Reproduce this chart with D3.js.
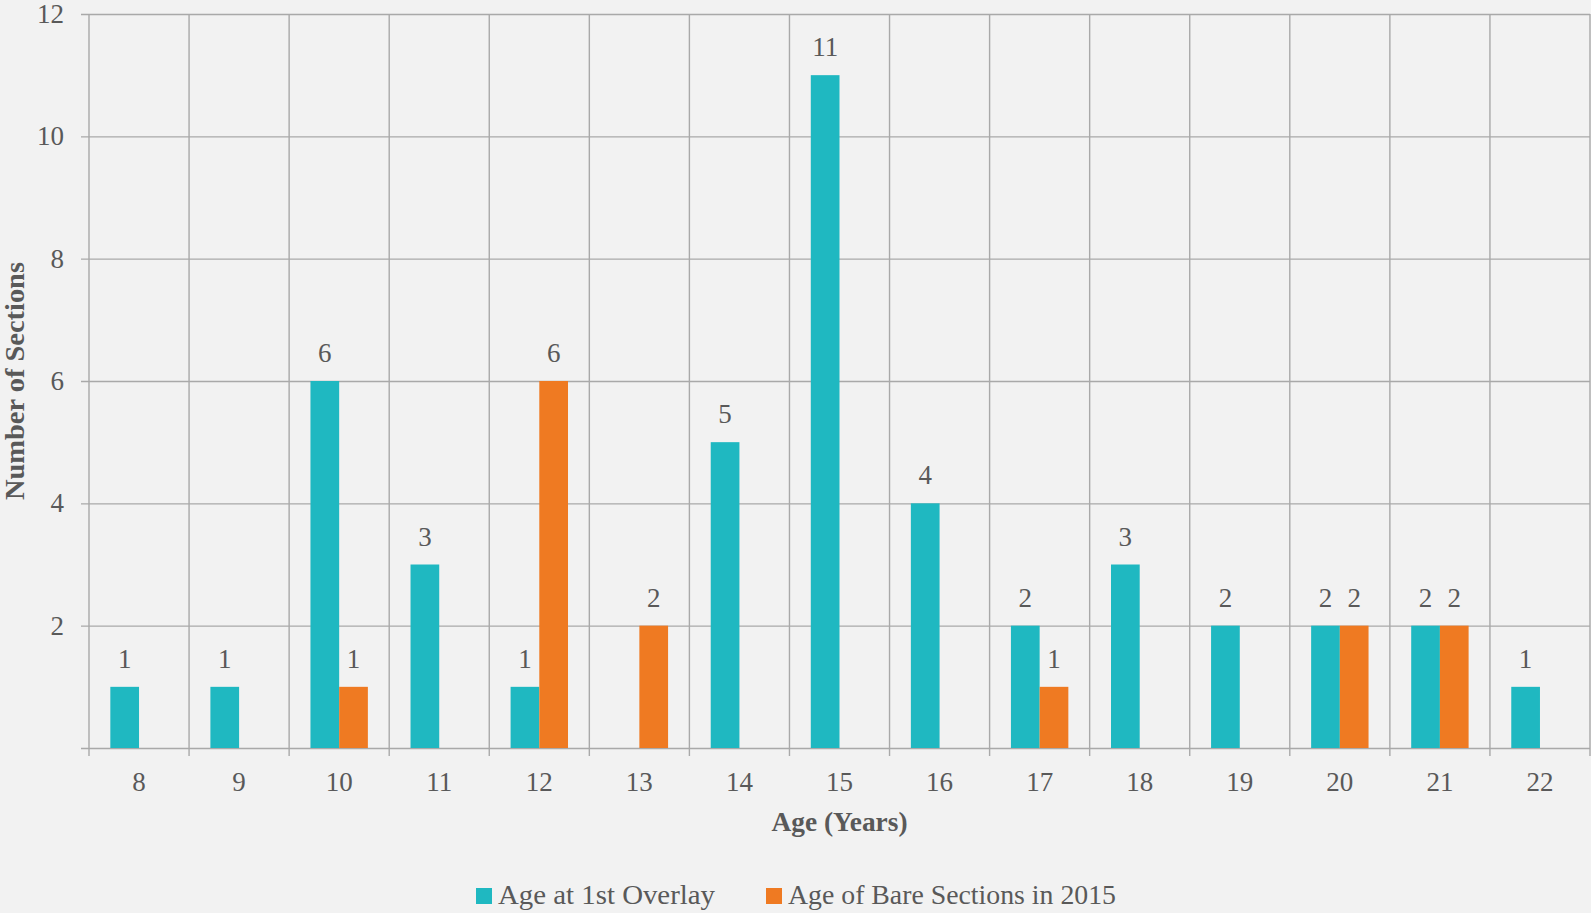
<!DOCTYPE html>
<html>
<head>
<meta charset="utf-8">
<script src="https://cdn.jsdelivr.net/npm/d3@7"></script>
<style>
	body { margin: 0; background: #f2f2f2; }
	svg { display: block; font-family: "Palatino Linotype", "Book Antiqua", Palatino, "Liberation Serif", serif; }
	.axis .domain { display: none; }
	.axis text { fill: #595959; font-size: 27px; }
</style>
</head>
<body>
<div id="chart"></div>
<script>
// Age distribution chart - grouped bars per age

var ages = ["8", "9", "10", "11", "12", "13", "14", "15", "16", "17", "18", "19", "20", "21", "22"];
var seriesNames = ["Age at 1st Overlay", "Age of Bare Sections in 2015"];
var firstOverlay = [1, 1, 6, 3, 1, 0, 5, 11, 4, 2, 3, 2, 2, 2, 1];
var bareSections = [0, 0, 1, 0, 6, 2, 0, 0, 0, 1, 0, 0, 2, 2, 0];
var yTicks = [0, 2, 4, 6, 8, 10, 12];
var colors = ["#1fb8c1", "#ef7a22"];

var FONT = '"Palatino Linotype", "Book Antiqua", Palatino, "Liberation Serif", serif';

function bar_chart(div_id) {
	var margin = {top: 14, right: 1, bottom: 165, left: 89},
		width = 1591 - margin.left - margin.right,
		height = 913 - margin.top - margin.bottom;

	var x0 = d3.scaleBand().domain(ages).range([0, width]).padding(0);
	var x1 = d3.scaleBand().domain(seriesNames).range([0, x0.bandwidth()])
		.paddingInner(0).paddingOuter(0.743);
	var y = d3.scaleLinear().domain([0, 12]).range([height, 0]);

	var svg = d3.select('#' + div_id).append("svg")
		.attr("width", 1591)
		.attr("height", 913);
	var g = svg.append("g")
		.attr("transform", "translate(" + margin.left + "," + margin.top + ")");

	// horizontal grid + y labels
	var yAxis = g.append("g")
		.attr("class", "axis")
		.call(d3.axisLeft(y).tickValues(yTicks).tickSize(-width).tickPadding(25)
			.tickFormat(function(d) { return d === 0 ? "" : d; }))
		.attr("font-family", FONT)
		.attr("font-size", 27);
	yAxis.selectAll("line")
		.attr("x1", -8)
		.attr("stroke", "#a9a9a9")
		.attr("stroke-width", 1.4);

	// vertical grid lines at band edges
	var edges = ages.map(function(a) { return x0(a); }).concat([width]);
	g.selectAll(".vgrid")
		.data(edges)
		.enter().append("line")
		  .attr("class", "vgrid")
		  .attr("x1", function(d) { return d; })
		  .attr("x2", function(d) { return d; })
		  .attr("y1", 0)
		  .attr("y2", height + 8)
		  .attr("stroke", "#a9a9a9")
		  .attr("stroke-width", 1.4);

	// x labels
	g.append("g")
		.attr("class", "axis")
		.attr("transform", "translate(0," + height + ")")
		.call(d3.axisBottom(x0).tickSize(0).tickPadding(24))
		.attr("font-family", FONT)
		.attr("font-size", 27);

	var rows = [];
	ages.forEach(function(a, i) {
		rows.push({age: a, s: seriesNames[0], v: firstOverlay[i], c: colors[0]});
		rows.push({age: a, s: seriesNames[1], v: bareSections[i], c: colors[1]});
	});
	var nz = rows.filter(function(d) { return d.v > 0; });

	g.selectAll(".bar")
		.data(nz)
		.enter().append("rect")
		  .attr("class", "bar")
		  .attr("x", function(d) { return x0(d.age) + x1(d.s); })
		  .attr("width", x1.bandwidth())
		  .attr("y", function(d) { return y(d.v); })
		  .attr("height", function(d) { return height - y(d.v); })
		  .attr("fill", function(d) { return d.c; });

	g.selectAll(".val")
		.data(nz)
		.enter().append("text")
		  .attr("class", "val")
		  .attr("x", function(d) { return x0(d.age) + x1(d.s) + x1.bandwidth() / 2; })
		  .attr("y", function(d) { return y(d.v) - 19; })
		  .attr("text-anchor", "middle")
		  .attr("fill", "#595959")
		  .attr("font-size", "27px")
		  .text(function(d) { return d.v; });

	// axis titles
	svg.append("text")
		.attr("x", margin.left + width / 2)
		.attr("y", 831)
		.attr("text-anchor", "middle")
		.attr("font-size", "27px")
		.attr("font-weight", "bold")
		.attr("fill", "#595959")
		.attr("textLength", 136)
		.attr("lengthAdjust", "spacingAndGlyphs")
		.text("Age (Years)");

	svg.append("text")
		.attr("transform", "translate(24,381) rotate(-90)")
		.attr("text-anchor", "middle")
		.attr("font-size", "27px")
		.attr("font-weight", "bold")
		.attr("fill", "#595959")
		.attr("textLength", 238)
		.attr("lengthAdjust", "spacingAndGlyphs")
		.text("Number of Sections");

	// legend
	var legX = [476, 766], legW = [217, 328];
	seriesNames.forEach(function(name, i) {
		svg.append("rect")
			.attr("x", legX[i]).attr("y", 888)
			.attr("width", 16).attr("height", 16)
			.attr("fill", colors[i]);
		svg.append("text")
			.attr("x", legX[i] + 22).attr("y", 904)
			.attr("font-size", "27px")
			.attr("fill", "#595959")
			.attr("textLength", legW[i])
			.attr("lengthAdjust", "spacingAndGlyphs")
			.text(name);
	});
} // bar_chart

bar_chart("chart");
</script>
</body>
</html>
